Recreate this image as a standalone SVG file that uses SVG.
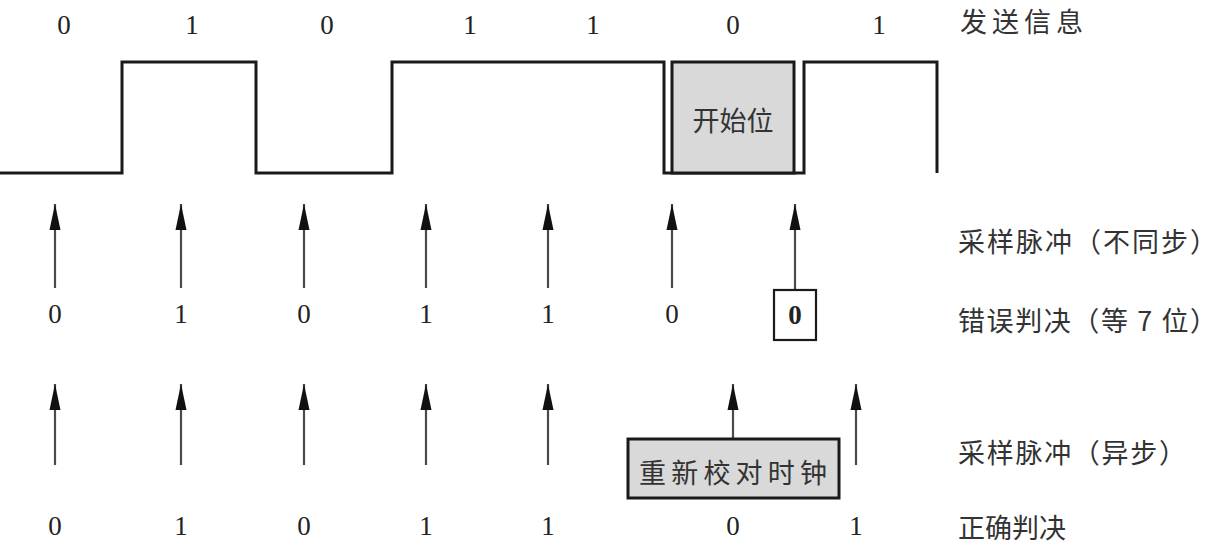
<svg xmlns="http://www.w3.org/2000/svg" width="1220" height="544" viewBox="0 0 1220 544">
<style>
.num{font-family:"Liberation Serif","Times New Roman",serif;font-size:27px;fill:#222;text-anchor:middle;dominant-baseline:central}
.bold{font-weight:bold}
.cn{font-family:"Noto Sans CJK SC","Noto Sans CJK JP",sans-serif;font-size:27px;fill:#333;dominant-baseline:central}
.cnc{text-anchor:middle}
.wave{fill:none;stroke:#1a1a1a;stroke-width:3;stroke-linejoin:miter}
.arr{stroke:#4a4a4a;stroke-width:2.2;fill:none;marker-end:url(#ah)}
.box{fill:#d9d9d9;stroke:#1a1a1a;stroke-width:3}
.wbox{fill:#fff;stroke:#1a1a1a;stroke-width:2.2}
</style>
<defs>
<marker id="ah" markerWidth="28" markerHeight="12" refX="26" refY="6" orient="auto" markerUnits="userSpaceOnUse" viewBox="0 0 28 12">
<path d="M0 0.5 L26 6 L0 11.5 Z" fill="#111"/>
</marker>
</defs>
<rect width="1220" height="544" fill="#fff"/>

<g id="waveform">
<polyline class="wave" points="0,173 122,173 122,62 256,62 256,173 392,173 392,62 664,62 664,173 804,173 804,62 937,62 937,173"/>
</g>
<g id="start-bit">
<rect class="box" x="672" y="62" width="122" height="111"/>
<text class="cn cnc" x="733" y="119">开始位</text>
</g>

<g id="top-labels">
<text class="num" x="64" y="25">0</text>
<text class="num" x="192" y="25">1</text>
<text class="num" x="327" y="25">0</text>
<text class="num" x="470" y="25">1</text>
<text class="num" x="593" y="25">1</text>
<text class="num" x="733" y="25">0</text>
<text class="num" x="879" y="25">1</text>
<text class="cn" x="960" y="20" textLength="123" lengthAdjust="spacing">发送信息</text>
</g>

<g id="connectors">
<line class="arr" x1="55" y1="288" x2="55" y2="204"/>
<line class="arr" x1="181" y1="288" x2="181" y2="204"/>
<line class="arr" x1="304" y1="288" x2="304" y2="204"/>
<line class="arr" x1="426" y1="288" x2="426" y2="204"/>
<line class="arr" x1="548" y1="288" x2="548" y2="204"/>
<line class="arr" x1="672" y1="288" x2="672" y2="204"/>
<line class="arr" x1="795" y1="289" x2="795" y2="204"/>

<line class="arr" x1="55" y1="465" x2="55" y2="384"/>
<line class="arr" x1="181" y1="465" x2="181" y2="384"/>
<line class="arr" x1="304" y1="465" x2="304" y2="384"/>
<line class="arr" x1="426" y1="465" x2="426" y2="384"/>
<line class="arr" x1="548" y1="465" x2="548" y2="384"/>
<line class="arr" x1="733" y1="439" x2="733" y2="384"/>
<line class="arr" x1="856" y1="465" x2="856" y2="384"/>
</g>

<g id="row1-labels">
<text class="num" x="55" y="314">0</text>
<text class="num" x="181" y="314">1</text>
<text class="num" x="304" y="314">0</text>
<text class="num" x="426" y="314">1</text>
<text class="num" x="548" y="314">1</text>
<text class="num" x="672" y="314">0</text>
<text class="cn" x="958" y="240" textLength="259" lengthAdjust="spacing">采样脉冲（不同步）</text>
<text class="cn" x="958" y="319" textLength="259" lengthAdjust="spacing">错误判决（等 7 位）</text>
</g>
<g id="error-bit">
<rect class="wbox" x="774" y="290" width="42" height="50"/>
<text class="num bold" x="795" y="315">0</text>
</g>

<g id="recalibrate">
<rect class="box" x="628" y="439" width="211" height="59"/>
<text class="cn cnc" x="733" y="471" textLength="188" lengthAdjust="spacing">重新校对时钟</text>
</g>

<g id="row2-labels">
<text class="num" x="55" y="526">0</text>
<text class="num" x="181" y="526">1</text>
<text class="num" x="304" y="526">0</text>
<text class="num" x="426" y="526">1</text>
<text class="num" x="548" y="526">1</text>
<text class="num" x="733" y="526">0</text>
<text class="num" x="856" y="526">1</text>
<text class="cn" x="958" y="451" textLength="228" lengthAdjust="spacing">采样脉冲（异步）</text>
<text class="cn" x="958" y="526">正确判决</text>
</g>
</svg>
